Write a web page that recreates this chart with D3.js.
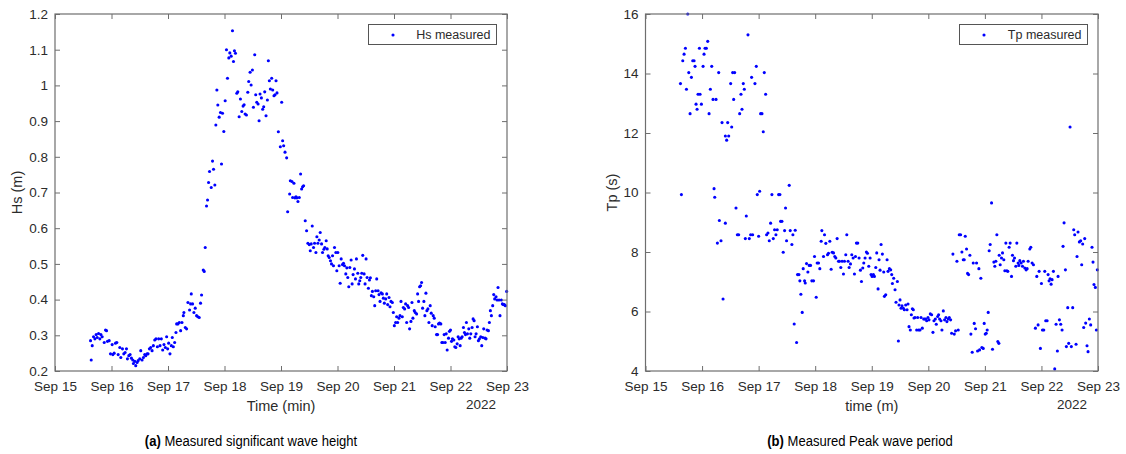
<!DOCTYPE html>
<html>
<head>
<meta charset="utf-8">
<script src="https://cdn.jsdelivr.net/npm/d3@7"></script>
<style>
  body { margin: 0; background: #fff; }
  text { font-family: Arial, "Liberation Sans", Helvetica, sans-serif; }
</style>
</head>
<body>
<svg id="fig" width="1126" height="454"></svg>
<script>
// Tick positions (day of September 2022) and value ticks
const dayTicks = [15, 16, 17, 18, 19, 20, 21, 22, 23];
const hsTicks = [0.2, 0.3, 0.4, 0.5, 0.6, 0.7, 0.8, 0.9, 1.0, 1.1, 1.2];
const tpTicks = [4, 6, 8, 10, 12, 14, 16];

// Significant wave height: time (day of September, UTC) and Hs (m)
const hsDay = [
  15.629,15.641,15.659,15.682,15.706,15.729,15.747,15.771,15.794,15.812,15.835,15.871,15.894,15.912,15.929,15.959,15.982,
  16.012,16.024,16.047,16.071,16.094,16.118,16.147,16.165,16.194,16.218,16.241,16.265,16.282,16.306,16.329,16.353,16.376,16.388,
  16.412,16.429,16.453,16.471,16.500,16.518,16.541,16.565,16.588,16.606,16.629,16.647,16.671,16.694,16.718,16.741,16.765,16.788,
  16.812,16.835,16.859,16.882,16.906,16.929,16.953,16.976,16.994,17.012,17.035,17.059,17.076,17.094,17.118,17.141,17.153,17.176,
  17.200,17.224,17.247,17.271,17.282,17.306,17.329,17.353,17.382,17.400,17.412,17.435,17.459,17.482,17.506,17.529,17.553,17.576,
  17.594,17.624,17.641,17.659,17.682,17.700,17.718,17.735,17.765,17.788,17.806,17.829,17.847,17.865,17.882,17.906,17.929,17.947,
  17.965,17.988,18.012,18.035,18.053,18.076,18.094,18.118,18.141,18.159,18.176,18.194,18.218,18.235,18.259,18.282,18.306,18.329,
  18.347,18.365,18.388,18.412,18.429,18.453,18.471,18.494,18.512,18.535,18.553,18.571,18.594,18.612,18.629,18.653,18.676,18.694,
  18.712,18.735,18.759,18.776,18.794,18.812,18.835,18.853,18.876,18.894,18.912,18.929,18.953,18.988,19.012,19.029,19.047,
  19.071,19.100,19.118,19.153,19.165,19.194,19.206,19.229,19.247,19.265,19.282,19.300,19.324,19.347,19.365,19.382,19.400,19.429,
  19.453,19.476,19.500,19.518,19.535,19.553,19.576,19.594,19.618,19.635,19.653,19.676,19.694,19.718,19.735,19.759,19.776,19.800,
  19.818,19.835,19.853,19.876,19.894,19.912,19.929,19.947,19.971,19.988,20.006,20.029,20.047,20.065,20.088,20.106,20.124,20.147,
  20.165,20.182,20.200,20.218,20.241,20.259,20.276,20.300,20.318,20.335,20.359,20.376,20.394,20.412,20.429,20.447,20.471,20.488,
  20.506,20.524,20.547,20.565,20.582,20.600,20.618,20.641,20.659,20.676,20.694,20.718,20.735,20.753,20.771,20.794,20.812,20.829,
  20.853,20.871,20.888,20.912,20.929,20.947,20.971,20.988,21.006,21.029,21.047,21.065,21.088,21.106,21.124,21.147,21.165,21.188,
  21.206,21.224,21.241,21.259,21.276,21.300,21.318,21.335,21.359,21.376,21.400,21.418,21.435,21.453,21.471,21.488,21.506,21.529,
  21.547,21.565,21.582,21.600,21.618,21.641,21.659,21.676,21.694,21.712,21.729,21.753,21.771,21.788,21.806,21.829,21.847,21.865,
  21.888,21.906,21.924,21.941,21.965,21.982,22.000,22.018,22.035,22.059,22.076,22.094,22.118,22.135,22.153,22.171,22.188,22.206,
  22.229,22.247,22.265,22.282,22.300,22.324,22.341,22.359,22.382,22.400,22.418,22.435,22.453,22.476,22.494,22.512,22.535,22.553,
  22.571,22.588,22.612,22.629,22.647,22.671,22.688,22.706,22.724,22.747,22.765,22.782,22.806,22.824,22.841,22.859,22.876,22.900,
  22.918,22.935,22.953,22.971,22.994
];
const hsVal = [
  0.285,0.231,0.271,0.296,0.290,0.302,0.294,0.305,0.290,0.302,0.296,0.280,0.315,0.313,0.283,0.285,0.248,
  0.274,0.246,0.250,0.278,0.280,0.246,0.266,0.238,0.262,0.248,0.252,0.262,0.234,0.243,0.246,0.236,0.231,0.221,
  0.227,0.215,0.224,0.229,0.234,0.257,0.231,0.238,0.246,0.243,0.248,0.248,0.262,0.266,0.257,0.271,0.287,0.290,
  0.268,0.290,0.271,0.290,0.259,0.274,0.266,0.296,0.262,0.278,0.248,0.271,0.294,0.268,0.280,0.308,0.332,0.332,
  0.336,0.313,0.336,0.355,0.364,0.322,0.318,0.392,0.371,0.388,0.416,0.388,0.364,0.376,0.355,0.352,0.350,0.390,
  0.413,0.483,0.479,0.546,0.662,0.679,0.728,0.759,0.714,0.788,0.765,0.721,0.889,0.987,0.945,0.911,0.924,0.780,
  0.922,0.871,0.957,1.100,1.020,1.077,1.091,1.082,1.153,1.067,1.097,1.090,0.978,0.982,0.912,0.962,0.927,0.942,
  0.946,0.920,0.917,0.981,1.011,1.037,1.001,1.043,0.939,1.086,0.974,0.953,0.948,0.901,0.976,0.965,0.933,0.940,
  0.982,0.915,0.959,1.069,1.013,0.990,1.020,0.987,0.971,0.974,1.013,0.979,0.870,0.828,0.953,0.845,0.831,
  0.813,0.797,0.646,0.696,0.733,0.731,0.686,0.726,0.685,0.688,0.685,0.675,0.686,0.752,0.710,0.716,0.719,0.621,
  0.593,0.558,0.554,0.537,0.556,0.606,0.546,0.558,0.532,0.576,0.558,0.567,0.588,0.556,0.532,0.541,0.546,0.565,
  0.542,0.523,0.518,0.509,0.500,0.523,0.495,0.546,0.532,0.481,0.532,0.495,0.446,0.514,0.498,0.502,0.495,0.472,
  0.489,0.462,0.436,0.490,0.511,0.444,0.470,0.486,0.458,0.514,0.474,0.444,0.453,0.462,0.474,0.524,0.472,0.444,
  0.514,0.462,0.432,0.455,0.461,0.411,0.423,0.408,0.383,0.425,0.458,0.425,0.414,0.395,0.419,0.416,0.404,0.390,
  0.402,0.416,0.386,0.406,0.380,0.395,0.392,0.364,0.327,0.336,0.352,0.336,0.348,0.355,0.395,0.352,0.378,0.374,
  0.388,0.336,0.383,0.378,0.318,0.339,0.392,0.348,0.369,0.364,0.360,0.416,0.395,0.436,0.439,0.448,0.376,0.395,
  0.355,0.418,0.369,0.374,0.336,0.383,0.362,0.327,0.355,0.348,0.324,0.302,0.302,0.332,0.334,0.332,0.280,0.280,
  0.302,0.280,0.304,0.259,0.292,0.311,0.315,0.283,0.290,0.287,0.268,0.266,0.276,0.296,0.290,0.271,0.292,0.296,
  0.322,0.308,0.302,0.336,0.304,0.318,0.292,0.304,0.322,0.346,0.341,0.296,0.304,0.324,0.285,0.290,0.296,0.271,
  0.294,0.318,0.292,0.290,0.315,0.313,0.336,0.369,0.355,0.383,0.414,0.402,0.408,0.399,0.434,0.399,0.355,0.399,
  0.388,0.386,0.386,0.383,0.423
];

// Peak wave period: time (day of September, UTC) and Tp (s)
const tpDay = [
  15.618,15.635,15.659,15.682,15.706,15.724,15.747,15.765,15.788,15.812,15.835,15.859,15.876,15.894,15.912,15.929,15.953,15.965,
  15.988,16.018,16.035,16.053,16.076,16.100,16.124,16.147,16.171,16.194,16.212,16.224,16.247,16.271,16.294,16.306,16.335,16.353,
  16.371,16.412,16.412,16.435,16.453,16.471,16.506,16.524,16.541,16.559,16.576,16.600,16.624,16.647,16.665,16.688,16.706,16.729,
  16.747,16.765,16.782,16.812,16.835,16.859,16.876,16.894,16.935,16.959,16.976,17.000,17.018,17.035,17.059,17.082,17.100,17.124,
  17.141,17.165,17.188,17.212,17.235,17.259,17.282,17.306,17.329,17.353,17.376,17.388,17.412,17.435,17.459,17.476,17.494,17.541,
  17.559,17.588,17.606,17.629,17.647,17.671,17.688,17.712,17.729,17.747,17.771,17.788,17.812,17.824,17.847,17.871,17.894,17.918,
  17.941,17.971,17.988,18.018,18.035,18.059,18.082,18.106,18.118,18.147,18.165,18.188,18.218,18.235,18.259,18.282,18.300,18.324,
  18.347,18.365,18.388,18.412,18.429,18.453,18.476,18.500,18.518,18.541,18.559,18.582,18.600,18.624,18.647,18.671,18.694,18.712,
  18.729,18.753,18.776,18.800,18.818,18.841,18.859,18.882,18.906,18.924,18.947,18.971,18.988,19.006,19.029,19.047,19.071,19.088,
  19.112,19.129,19.147,19.165,19.188,19.212,19.224,19.247,19.271,19.288,19.312,19.335,19.353,19.365,19.388,19.412,19.429,19.453,
  19.471,19.482,19.500,19.518,19.535,19.559,19.576,19.600,19.624,19.641,19.659,19.682,19.700,19.718,19.735,19.747,19.765,19.794,
  19.812,19.829,19.853,19.871,19.894,19.918,19.935,19.953,19.971,19.994,20.012,20.035,20.059,20.082,20.100,20.124,20.141,20.165,
  20.182,20.200,20.224,20.241,20.265,20.288,20.312,20.329,20.353,20.371,20.394,20.412,20.435,20.459,20.482,20.506,20.529,20.547,
  20.571,20.594,20.618,20.635,20.653,20.676,20.694,20.712,20.735,20.753,20.776,20.794,20.812,20.835,20.853,20.871,20.894,20.906,
  20.929,20.947,20.971,20.988,21.006,21.024,21.041,21.059,21.076,21.094,21.118,21.135,21.159,21.176,21.194,21.212,21.229,21.247,
  21.253,21.271,21.294,21.312,21.335,21.353,21.371,21.388,21.406,21.429,21.447,21.471,21.488,21.506,21.524,21.547,21.565,21.588,
  21.600,21.618,21.641,21.665,21.682,21.706,21.729,21.747,21.765,21.794,21.812,21.835,21.859,21.894,21.918,21.941,21.959,21.982,
  22.000,22.018,22.041,22.059,22.076,22.100,22.118,22.135,22.153,22.171,22.188,22.212,22.235,22.259,22.282,22.294,22.318,22.341,
  22.365,22.382,22.400,22.424,22.441,22.465,22.482,22.506,22.529,22.553,22.571,22.588,22.612,22.629,22.647,22.671,22.694,22.712,
  22.729,22.747,22.765,22.782,22.806,22.824,22.847,22.871,22.894,22.912,22.929,22.953,22.971,22.988
];
const tpVal = [
  13.66,9.93,14.43,14.65,14.85,13.47,16.00,14.03,12.65,13.87,14.43,14.43,14.24,12.97,12.80,13.30,14.85,13.30,
  12.97,14.24,14.65,14.85,14.85,15.08,12.65,13.47,14.24,13.13,10.13,9.84,13.13,8.30,14.03,9.06,8.38,12.35,
  6.42,8.97,11.90,11.76,12.35,11.90,13.66,12.20,14.03,13.13,14.03,9.48,8.58,8.58,12.65,13.30,12.80,13.66,
  13.47,8.45,9.21,15.30,8.45,8.58,13.87,8.58,13.66,14.24,9.93,8.53,10.04,12.65,12.65,12.04,14.03,13.30,
  8.58,8.64,8.38,8.97,9.93,8.45,8.75,8.58,8.75,9.93,9.93,9.03,9.03,7.99,8.72,9.48,8.38,10.24,
  8.72,8.25,8.58,5.58,8.73,4.96,7.24,7.24,7.03,6.58,5.97,7.44,7.03,6.96,7.61,7.33,7.55,7.55,
  7.03,7.03,7.85,6.48,7.63,7.63,7.44,8.36,8.72,7.85,8.58,8.29,7.91,7.96,8.36,7.42,7.99,7.97,
  7.85,7.80,8.45,7.69,7.69,7.48,7.69,7.26,7.69,7.91,8.58,7.69,7.48,7.60,7.91,7.80,7.26,7.85,
  8.30,8.30,7.80,7.39,7.01,7.46,7.63,7.80,8.00,7.96,7.52,7.80,7.24,7.18,7.24,7.18,7.48,7.97,
  6.76,7.74,7.39,8.25,7.93,7.33,6.51,6.56,7.74,7.35,7.44,7.40,7.24,6.94,7.12,6.73,6.31,7.01,
  5.01,6.22,6.39,6.11,6.19,6.11,6.06,6.22,6.06,6.25,5.49,5.38,5.89,6.09,6.06,5.78,5.80,5.38,
  5.80,5.38,5.38,5.80,5.44,5.75,5.75,5.75,5.69,5.80,5.72,5.92,5.89,5.30,5.69,5.75,5.57,5.83,
  5.89,5.75,5.69,5.38,6.02,5.72,5.80,5.66,5.75,5.80,5.72,5.27,7.93,5.24,5.35,7.69,5.38,8.58,
  8.58,8.00,7.74,7.74,8.53,8.10,7.28,7.24,7.89,5.24,4.63,7.63,5.60,5.42,7.63,4.67,7.44,4.71,
  7.12,4.79,4.76,5.60,5.24,5.27,5.38,5.97,8.04,8.25,9.65,4.73,7.66,7.52,7.69,8.58,4.99,4.93,
  7.89,7.57,7.80,7.97,7.74,7.37,8.30,7.37,7.35,8.16,8.30,7.18,7.89,7.71,7.80,7.52,8.30,7.63,
  7.55,7.71,7.63,7.52,7.69,7.46,7.40,7.44,7.69,8.10,8.16,7.63,7.57,5.44,7.18,5.55,7.35,4.76,
  6.94,5.38,5.38,7.35,5.69,5.69,7.24,7.03,7.10,6.92,7.07,7.35,4.07,5.57,4.67,7.18,5.72,5.57,
  5.38,8.19,8.98,7.40,4.82,6.13,4.93,12.20,4.82,6.13,8.75,8.58,4.90,7.85,8.67,8.34,8.38,7.57,
  8.27,5.46,8.45,5.61,4.85,4.65,5.75,5.55,8.16,7.66,6.91,6.81,5.38,7.40
];

const dayToDate = d => new Date(Date.UTC(2022, 8, 1) + (d - 1) * 864e5);

const svg = d3.select("#fig");
const axisColor = "#6e6e6e";
const textColor = "#2b2b2b";
const dotColor = "#0000ff";

function drawPanel(o) {
  const x = d3.scaleUtc()
    .domain([dayToDate(dayTicks[0]), dayToDate(dayTicks[dayTicks.length - 1])])
    .range([o.left, o.right]);
  const y = d3.scaleLinear().domain(o.yDomain).range([o.bottom, o.top]);
  const g = svg.append("g");
  const tickDates = dayTicks.map(dayToDate);

  // points
  g.append("g").selectAll("circle")
    .data(o.days.map((d, i) => [dayToDate(d), o.vals[i]]))
    .join("circle")
    .attr("cx", d => x(d[0]))
    .attr("cy", d => y(d[1]))
    .attr("r", 1.55)
    .attr("fill", dotColor);

  const style = sel => {
    sel.select(".domain").remove();
    sel.selectAll(".tick line").attr("stroke", axisColor);
    sel.selectAll(".tick text")
      .attr("fill", textColor)
      .style("font-size", "13.5px")
      .style("font-family", "Arial, 'Liberation Sans', sans-serif");
  };

  // bottom axis with date labels, ticks pointing inward
  g.append("g")
    .attr("transform", `translate(0,${o.bottom})`)
    .call(d3.axisBottom(x).tickValues(tickDates).tickFormat(d3.utcFormat("%b %d"))
      .tickSizeInner(-5).tickSizeOuter(0).tickPadding(10))
    .call(style);
  // top axis: ticks only
  g.append("g")
    .attr("transform", `translate(0,${o.top})`)
    .call(d3.axisTop(x).tickValues(tickDates).tickFormat("")
      .tickSizeInner(-5).tickSizeOuter(0))
    .call(style);
  // left axis
  g.append("g")
    .attr("transform", `translate(${o.left},0)`)
    .call(d3.axisLeft(y).tickValues(o.yTicks).tickFormat(d3.format("~g"))
      .tickSizeInner(-5).tickSizeOuter(0).tickPadding(7))
    .call(style);
  // right axis: ticks only
  g.append("g")
    .attr("transform", `translate(${o.right},0)`)
    .call(d3.axisRight(y).tickValues(o.yTicks).tickFormat("")
      .tickSizeInner(-5).tickSizeOuter(0))
    .call(style);

  // axes box
  g.append("rect")
    .attr("x", o.left).attr("y", o.top)
    .attr("width", o.right - o.left).attr("height", o.bottom - o.top)
    .attr("fill", "none").attr("stroke", axisColor).attr("stroke-width", 1.2);

  // axis titles
  g.append("text")
    .attr("x", (o.left + o.right) / 2).attr("y", 411)
    .attr("text-anchor", "middle").attr("fill", textColor)
    .style("font-size", "14.5px").text(o.xLabel);
  g.append("text")
    .attr("x", x(tickDates[tickDates.length - 1]) - 26).attr("y", 409)
    .attr("text-anchor", "middle").attr("fill", textColor)
    .style("font-size", "13.5px").text("2022");
  g.append("text")
    .attr("transform", `translate(${o.yLabelX},${(o.top + o.bottom) / 2}) rotate(-90)`)
    .attr("text-anchor", "middle").attr("fill", textColor)
    .style("font-size", "14.5px").text(o.yLabel);

  // legend
  const lg = g.append("g").attr("transform", `translate(${o.right - 138.5},24.5)`);
  lg.append("rect").attr("width", 128).attr("height", 20)
    .attr("fill", "#fff").attr("stroke", "#555").attr("stroke-width", 1);
  lg.append("circle").attr("cx", 24.5).attr("cy", 10.5).attr("r", 1.55).attr("fill", dotColor);
  lg.append("text").attr("x", 122).attr("y", 14.8)
    .attr("text-anchor", "end").attr("fill", textColor)
    .style("font-size", "12.5px").text(o.legend);

  // caption, slightly condensed
  const cap = svg.append("text")
    .attr("transform", `translate(${o.capX},446) scale(0.9,1)`)
    .attr("text-anchor", "middle").attr("fill", "#000")
    .style("font-size", "14.5px");
  cap.append("tspan").style("font-weight", "bold").text(o.capTag);
  cap.append("tspan").text(" " + o.caption);
}

drawPanel({
  left: 55, right: 507, top: 14, bottom: 371,
  yDomain: [0.2, 1.2], yTicks: hsTicks,
  days: hsDay, vals: hsVal,
  xLabel: "Time (min)", yLabel: "Hs (m)", yLabelX: 22,
  legend: "Hs measured",
  capX: 251, capTag: "(a)", caption: "Measured significant wave height"
});

drawPanel({
  left: 645.5, right: 1098, top: 14, bottom: 371,
  yDomain: [4, 16], yTicks: tpTicks,
  days: tpDay, vals: tpVal,
  xLabel: "time (m)", yLabel: "Tp (s)", yLabelX: 617,
  legend: "Tp measured",
  capX: 860, capTag: "(b)", caption: "Measured Peak wave period"
});
</script>
</body>
</html>
